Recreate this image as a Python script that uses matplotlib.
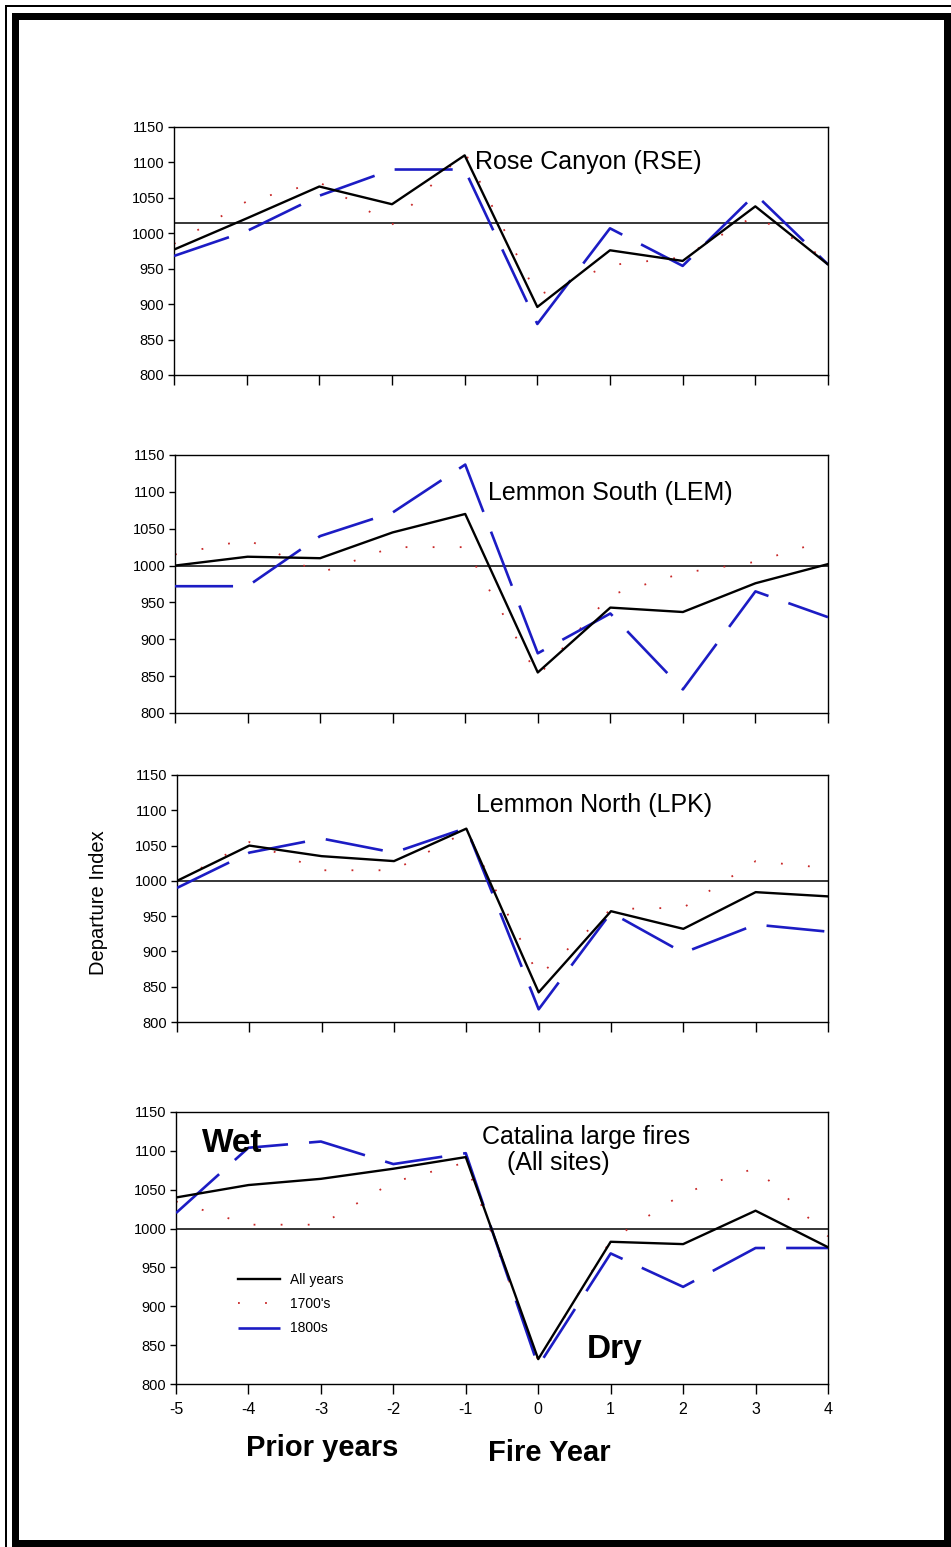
import matplotlib.pyplot as plt
from matplotlib.patches import Rectangle

# years relative to fire year
years = [-5, -4, -3, -2, -1, 0, 1, 2, 3, 4]

# Rose Canyon (RSE)
rse_all = [977, 1021, 1066, 1041, 1110, 896, 976, 961, 1038, 956]
rse_1700 = [985, 1045, 1072, 1012, 1115, 912, 955, 966, 1025, 962]
rse_1800 = [968, 1003, 1053, 1090, 1090, 872, 1007, 954, 1055, 956]

# Lemmon South (LEM)
lem_all = [1000, 1012, 1010, 1045, 1070, 855, 943, 937, 976, 1002]
lem_1700 = [1015, 1035, 990, 1025, 1025, 850, 960, 990, 1005, 1035]
lem_1800 = [972, 972, 1040, 1072, 1137, 881, 935, 832, 965, 930]

# Lemmon North (LPK)
lpk_all = [1000, 1050, 1035, 1028, 1074, 842, 957, 932, 984, 978]
lpk_1700 = [1000, 1055, 1015, 1015, 1070, 865, 960, 962, 1028, 1018]
lpk_1800 = [990, 1040, 1060, 1040, 1075, 818, 955, 898, 938, 928]

# Catalina large fires (all sites)
cat_all = [1040, 1056, 1064, 1077, 1092, 832, 983, 980, 1023, 976]
cat_1700 = [1035, 1005, 1005, 1060, 1085, 830, 985, 1045, 1078, 990]
cat_1800 = [1020, 1104, 1112, 1083, 1097, 823, 968, 925, 975, 975]

panels = [
    ("Rose Canyon (RSE)", rse_all, rse_1700, rse_1800, 1014),
    ("Lemmon South (LEM)", lem_all, lem_1700, lem_1800, 1000),
    ("Lemmon North (LPK)", lpk_all, lpk_1700, lpk_1800, 1000),
    ("Catalina large fires", cat_all, cat_1700, cat_1800, 1000),
]

plt.rcParams['font.family'] = ['Liberation Sans', 'DejaVu Sans']
plt.rcParams['axes.unicode_minus'] = False

W, H = 951, 1547
fig = plt.figure(figsize=(W / 100, H / 100), dpi=100)

# axes boxes in pixels: left, right, top, bottom
boxes = [(174, 828, 127, 375), (175, 828, 455, 713),
         (177, 828, 775, 1022), (176, 828, 1112, 1384)]
title_pos = [(-0.86, 1101, 'left'), (-0.68, 1098, 'left'),
             (-0.86, 1107, 'left'), (0.66, 1118, 'center')]

blue = '#1c1cc4'
red = '#c82828'

axes = []
for i, (title, s_all, s_1700, s_1800, ref) in enumerate(panels):
    l, r, t, b = boxes[i]
    ax = fig.add_axes([l / W, 1 - b / H, (r - l) / W, (b - t) / H])
    ax.axhline(ref, color='black', lw=1.1, zorder=1)
    ax.plot(years, s_1700, color=red, lw=1.3, linestyle=(0, (1, 14)), label="1700's", zorder=2)
    ax.plot(years, s_1800, color=blue, lw=1.9, linestyle=(0, (22, 8)), label='1800s', zorder=3)
    ax.plot(years, s_all, color='black', lw=1.7, label='All years', zorder=4)
    ax.set_xlim(-5, 4)
    ax.set_ylim(800, 1150)
    ax.set_xticks(years)
    ax.set_yticks(range(800, 1151, 50))
    ax.tick_params(axis='x', direction='out', length=7, width=1, labelsize=11.5, pad=6)
    ax.tick_params(axis='y', direction='out', length=4, width=1, labelsize=10.5, pad=3)
    if i < 3:
        ax.set_xticklabels([])
    for sp in ax.spines.values():
        sp.set_linewidth(1.0)
    tx, ty, ha = title_pos[i]
    ax.text(tx, ty, title, fontsize=18, ha=ha, va='center')
    axes.append(ax)

ax4 = axes[3]
ax4.text(0.28, 1084, '(All sites)', fontsize=18, ha='center', va='center')

h, lab = ax4.get_legend_handles_labels()
order = [2, 0, 1]
ax4.legend([h[k] for k in order], [lab[k] for k in order], loc='upper left',
           bbox_to_anchor=(0.085, 0.435), frameon=False, fontsize=10,
           handlelength=3.0, handletextpad=0.7, labelspacing=0.75, borderpad=0)

ax4.text(-4.22, 1110, 'Wet', fontsize=24, fontweight='bold', ha='center', va='center')
ax4.text(1.06, 844, 'Dry', fontsize=24, fontweight='bold', ha='center', va='center')

fig.text(322 / W, 1 - 1448 / H, 'Prior years', fontsize=21, fontweight='bold', ha='center', va='center')
fig.text(549 / W, 1 - 1453 / H, 'Fire Year', fontsize=21, fontweight='bold', ha='center', va='center')
fig.text(98 / W, 1 - 903 / H, 'Departure Index', fontsize=14.5, rotation=90, ha='center', va='center')

# double frame around the figure
def band(x0, y0, x1, y1):
    fig.patches.append(Rectangle((x0 / W, 1 - y1 / H), (x1 - x0) / W, (y1 - y0) / H,
                                 transform=fig.transFigure, color='black', lw=0))

band(5, 5, 951, 7)
band(5, 5, 7, 1547)
band(12, 13, 948, 20)
band(12, 13, 19, 1547)
band(944, 13, 951, 1547)
band(12, 1540, 951, 1547)

fig.savefig('out.png', dpi=100)
